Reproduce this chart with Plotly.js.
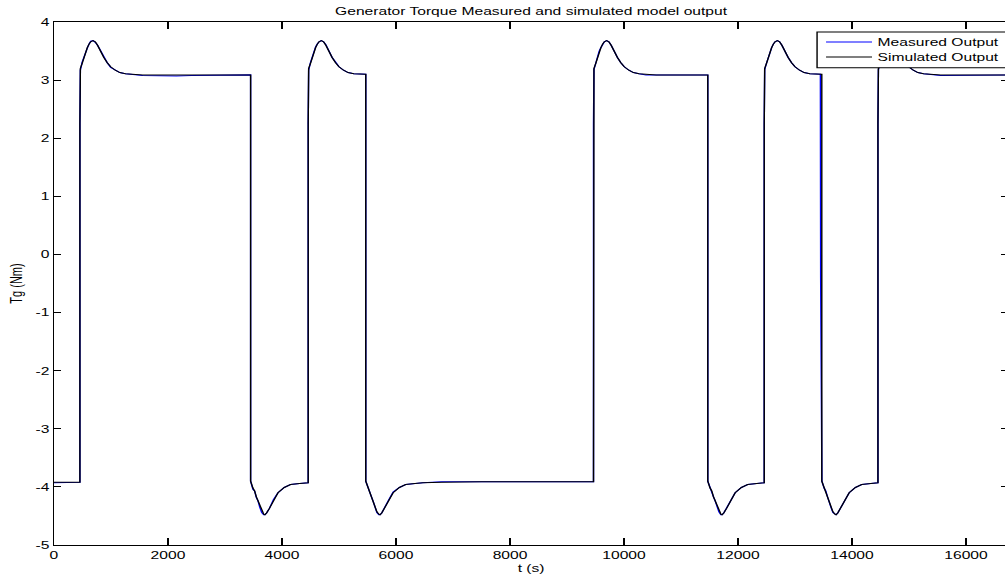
<!DOCTYPE html>
<html>
<head>
<meta charset="utf-8">
<script src="https://cdn.plot.ly/plotly-3.0.1.min.js"></script>
<style>
  html, body { margin: 0; padding: 0; overflow: hidden; background: #fff; }
  #chart { width: 712px; height: 581px; transform-origin: 0 0; }
</style>
</head>
<body>
<div id="chart"></div>
<script>
// Generator torque: simulated model output (s, Nm)
const timeSim = [
  0, 455,
  455, 463, 495, 525, 555, 585, 615, 645, 685, 725, 765, 815, 875, 935, 995, 1075, 1155, 1255, 1375, 1555, 3450,
  3450, 3490, 3520, 3550, 3580, 3610, 3645, 3680, 3700, 3730, 3780, 3850, 3930, 4040, 4150, 4310, 4460,
  4460, 4468, 4500, 4530, 4560, 4590, 4620, 4650, 4690, 4730, 4770, 4820, 4880, 4940, 5000, 5080, 5160, 5260, 5380, 5470,
  5470, 5510, 5540, 5570, 5600, 5630, 5665, 5700, 5720, 5750, 5800, 5870, 5950, 6060, 6170, 6330, 6470, 6800, 7500, 9465,
  9465, 9473, 9505, 9535, 9565, 9595, 9625, 9655, 9695, 9735, 9775, 9825, 9885, 9945, 10005, 10085, 10165, 10265, 10385, 10565, 11470,
  11470, 11510, 11540, 11570, 11600, 11630, 11665, 11700, 11720, 11750, 11800, 11870, 11950, 12060, 12170, 12330, 12460,
  12460, 12468, 12500, 12530, 12560, 12590, 12620, 12650, 12690, 12730, 12770, 12820, 12880, 12940, 13000, 13080, 13160, 13260, 13380, 13470,
  13470, 13510, 13540, 13570, 13600, 13630, 13665, 13700, 13720, 13750, 13800, 13870, 13950, 14060, 14170, 14330, 14455,
  14455, 14463, 14495, 14525, 14555, 14585, 14615, 14645, 14685, 14725, 14765, 14815, 14875, 14935, 14995, 15075, 15155, 15255, 15375, 15555, 16740
];
const torqueSim = [
  -3.92, -3.92,
  2.25, 3.20, 3.29, 3.40, 3.50, 3.56, 3.62, 3.66, 3.68, 3.66, 3.60, 3.50, 3.39, 3.30, 3.23, 3.17, 3.13, 3.11, 3.10, 3.09, 3.09,
  -3.90, -4.02, -4.07, -4.17, -4.24, -4.34, -4.43, -4.47, -4.48, -4.45, -4.37, -4.23, -4.10, -4.01, -3.96, -3.94, -3.93,
  2.25, 3.20, 3.29, 3.40, 3.50, 3.56, 3.62, 3.66, 3.68, 3.66, 3.60, 3.50, 3.39, 3.30, 3.23, 3.17, 3.13, 3.11, 3.10, 3.10,
  -3.90, -4.02, -4.07, -4.17, -4.24, -4.34, -4.43, -4.47, -4.48, -4.45, -4.37, -4.23, -4.10, -4.01, -3.96, -3.94, -3.93, -3.92, -3.91, -3.91,
  2.25, 3.20, 3.29, 3.40, 3.50, 3.56, 3.62, 3.66, 3.68, 3.66, 3.60, 3.50, 3.39, 3.30, 3.23, 3.17, 3.13, 3.11, 3.10, 3.09, 3.09,
  -3.90, -4.02, -4.07, -4.17, -4.24, -4.34, -4.43, -4.47, -4.48, -4.45, -4.37, -4.23, -4.10, -4.01, -3.96, -3.94, -3.93,
  2.25, 3.20, 3.29, 3.40, 3.50, 3.56, 3.62, 3.66, 3.68, 3.66, 3.60, 3.50, 3.39, 3.30, 3.23, 3.17, 3.13, 3.11, 3.10, 3.10,
  -3.90, -4.02, -4.07, -4.17, -4.24, -4.34, -4.43, -4.47, -4.48, -4.45, -4.37, -4.23, -4.10, -4.01, -3.96, -3.94, -3.93,
  2.25, 3.20, 3.29, 3.40, 3.50, 3.56, 3.62, 3.66, 3.68, 3.66, 3.60, 3.50, 3.39, 3.30, 3.23, 3.17, 3.13, 3.11, 3.10, 3.09, 3.09
];

// Generator torque: measured output (s, Nm)
const timeMeas = [
  0, 455,
  455, 463, 495, 525, 555, 585, 615, 645, 685, 725, 765, 815, 875, 935, 995, 1075, 1155, 1255, 1375, 1555, 2150, 2410, 3450,
  3450, 3490, 3520, 3550, 3580, 3610, 3645, 3680, 3700, 3730, 3780, 3850, 3930, 4040, 4150, 4310, 4460,
  4460, 4468, 4500, 4530, 4560, 4590, 4620, 4650, 4690, 4730, 4770, 4820, 4880, 4940, 5000, 5080, 5160, 5260, 5380, 5470,
  5470, 5510, 5540, 5570, 5600, 5630, 5665, 5700, 5720, 5750, 5800, 5870, 5950, 6060, 6170, 6330, 6470, 6800, 7500, 8300, 9465,
  9465, 9473, 9505, 9535, 9565, 9595, 9625, 9655, 9695, 9735, 9775, 9825, 9885, 9945, 10005, 10085, 10165, 10265, 10385, 10565, 11470,
  11470, 11510, 11540, 11570, 11600, 11630, 11665, 11700, 11720, 11750, 11800, 11870, 11950, 12060, 12170, 12330, 12460,
  12460, 12468, 12500, 12530, 12560, 12590, 12620, 12650, 12690, 12730, 12770, 12820, 12880, 12940, 13000, 13080, 13160, 13260, 13380, 13445,
  13450, 13472, 13510, 13540, 13570, 13600, 13630, 13665, 13700, 13720, 13750, 13800, 13870, 13950, 14060, 14170, 14330, 14455,
  14455, 14463, 14495, 14525, 14555, 14585, 14615, 14645, 14685, 14725, 14765, 14815, 14875, 14935, 14995, 15075, 15155, 15255, 15375, 15555, 16740
];
const torqueMeas = [
  -3.93, -3.92,
  2.25, 3.17, 3.31, 3.40, 3.51, 3.55, 3.62, 3.67, 3.68, 3.65, 3.60, 3.51, 3.39, 3.30, 3.22, 3.17, 3.13, 3.11, 3.10, 3.08, 3.07, 3.08, 3.09,
  -3.90, -4.04, -4.07, -4.18, -4.24, -4.35, -4.44, -4.48, -4.48, -4.45, -4.37, -4.22, -4.10, -4.01, -3.96, -3.94, -3.93,
  2.25, 3.17, 3.30, 3.40, 3.50, 3.57, 3.62, 3.66, 3.68, 3.66, 3.61, 3.50, 3.39, 3.31, 3.23, 3.17, 3.13, 3.11, 3.10, 3.10,
  -3.90, -4.03, -4.07, -4.17, -4.25, -4.34, -4.44, -4.48, -4.48, -4.45, -4.37, -4.23, -4.09, -4.01, -3.96, -3.94, -3.93, -3.91, -3.91, -3.92, -3.91,
  2.25, 3.18, 3.29, 3.41, 3.50, 3.56, 3.62, 3.66, 3.68, 3.66, 3.60, 3.50, 3.39, 3.30, 3.23, 3.17, 3.13, 3.11, 3.09, 3.09, 3.09,
  -3.90, -4.03, -4.07, -4.17, -4.24, -4.34, -4.43, -4.48, -4.48, -4.45, -4.37, -4.23, -4.10, -4.01, -3.96, -3.94, -3.93,
  2.25, 3.18, 3.29, 3.40, 3.50, 3.56, 3.62, 3.66, 3.68, 3.66, 3.60, 3.50, 3.39, 3.30, 3.23, 3.17, 3.13, 3.11, 3.10, 3.10,
  -0.40, -3.90, -4.02, -4.07, -4.17, -4.24, -4.35, -4.44, -4.48, -4.48, -4.45, -4.36, -4.23, -4.10, -4.01, -3.96, -3.94, -3.93,
  2.25, 3.18, 3.29, 3.40, 3.50, 3.56, 3.62, 3.66, 3.68, 3.66, 3.60, 3.50, 3.39, 3.30, 3.23, 3.17, 3.13, 3.11, 3.10, 3.08, 3.09
];

// Axis ticks
const xTickStep = 2000;
const xMax = 16740;
const yTickVals = [-5, -4, -3, -2, -1, 0, 1, 2, 3, 4];
const yTickText = ['-5', '-4', '-3', '-2', '-1', '0', '1', '2', '3', '4'];

const FONT = 'Arial, "Liberation Sans", Helvetica, sans-serif';
const MEAS_COLOR = '#0000ff';
const SIM_COLOR = '#000000';

const traces = [
  {
    x: timeMeas, y: torqueMeas, type: 'scatter', mode: 'lines',
    name: 'Measured Output',
    line: { color: MEAS_COLOR, width: 1 }
  },
  {
    x: timeSim, y: torqueSim, type: 'scatter', mode: 'lines',
    name: 'Simulated Output',
    line: { color: SIM_COLOR, width: 1 }
  }
];

const axisCommon = {
  showline: true, linecolor: '#000', linewidth: 1,
  mirror: 'ticks', ticks: 'inside', tickcolor: '#000', tickwidth: 1,
  showgrid: false, zeroline: false, automargin: false,
  tickfont: { family: FONT, size: 11, color: '#000' }
};

// Compact boxed legend in the upper right corner of the axes
const legendBox = { x0: 0.7997, x1: 1.02, y0: 0.9126, y1: 0.9809 };
const legendRows = [0.9618, 0.9331];
const legendLine = { x0: 0.8091, x1: 0.8573 };
const legendTextX = 0.8612;

const shapes = [
  {
    type: 'rect', xref: 'paper', yref: 'paper',
    x0: legendBox.x0, x1: legendBox.x1, y0: legendBox.y0, y1: legendBox.y1,
    line: { color: '#000', width: 1 }, fillcolor: '#fff', layer: 'above'
  }
].concat(traces.map(function (tr, i) {
  return {
    type: 'line', xref: 'paper', yref: 'paper',
    x0: legendLine.x0, x1: legendLine.x1, y0: legendRows[i], y1: legendRows[i],
    line: { color: tr.line.color, width: 1 }, layer: 'above'
  };
}));

const annotations = traces.map(function (tr, i) {
  return {
    xref: 'paper', yref: 'paper', x: legendTextX, y: legendRows[i],
    xanchor: 'left', yanchor: 'middle', showarrow: false, borderpad: 0,
    text: tr.name, font: { family: FONT, size: 11, color: '#000' }
  };
});

const layout = {
  width: 712, height: 581,
  margin: { l: 38, r: 2, t: 22, b: 36 },
  paper_bgcolor: '#fff', plot_bgcolor: '#fff',
  font: { family: FONT, size: 11, color: '#000' },
  title: {
    text: 'Generator Torque Measured and simulated model output',
    font: { family: FONT, size: 11, color: '#000' },
    x: 0.5, xref: 'paper', xanchor: 'center',
    y: 1 - 11.5 / 581, yref: 'container', yanchor: 'middle'
  },
  xaxis: Object.assign({}, axisCommon, {
    range: [0, xMax], tick0: 0, dtick: xTickStep, tickformat: 'd', ticklen: 7,
    title: { text: 't (s)', font: { family: FONT, size: 11, color: '#000' }, standoff: 4 }
  }),
  yaxis: Object.assign({}, axisCommon, {
    range: [yTickVals[0], yTickVals[yTickVals.length - 1]],
    tickmode: 'array', tickvals: yTickVals, ticktext: yTickText, ticklen: 5,
    title: { text: 'Tg (Nm)', font: { family: FONT, size: 11, color: '#000' }, standoff: 6 }
  }),
  showlegend: false,
  shapes: shapes,
  annotations: annotations
};

const chart = document.getElementById('chart');
Plotly.newPlot(chart, traces, layout, { displayModeBar: false, staticPlot: true })
  .then(function () {
    // the figure is laid out narrow and widened horizontally
    chart.style.transform = 'scaleX(1.42)';
  });
</script>
</body>
</html>
